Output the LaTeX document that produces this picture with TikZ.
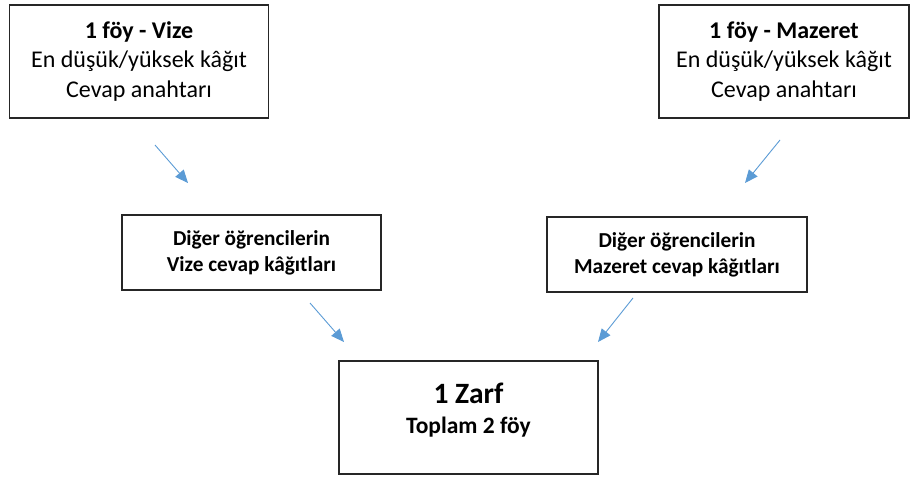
\documentclass[tikz,border=0pt]{standalone}
\usepackage{fontspec}
\setmainfont{Carlito}
\usetikzlibrary{arrows.meta}
\definecolor{arrowblue}{RGB}{91,155,213}
\tikzset{
  topbox/.style={draw=black!85, line width=1.2pt, minimum width=259pt, minimum height=113pt, align=center, font=\fontsize{24}{29.2}\selectfont, inner sep=0pt},
  midbox/.style={draw=black!85, line width=1.2pt, minimum width=259pt, minimum height=75pt, align=center, font=\bfseries\fontsize{21.3}{26}\selectfont, inner sep=0pt},
  flowarrow/.style={draw=arrowblue, line width=0.9pt, -{Triangle[length=13pt,width=11pt]}}
}
\begin{document}
\begin{tikzpicture}[x=1pt, y=-1pt]
		\useasboundingbox (0,0) rectangle (910,477);
		% Boxes
		\node[topbox] (vizefoy) at (139,61.5) {\textbf{1 föy - Vize}\\En düşük/yüksek kâğıt\\Cevap anahtarı};
		\node[topbox, minimum width=250pt] (mazeretfoy) at (784,61.5) {\textbf{1 föy - Mazeret}\\En düşük/yüksek kâğıt\\Cevap anahtarı};
		\node[midbox] (vizekagit) at (251.5,252.5) {Diğer öğrencilerin\\Vize cevap kâğıtları};
		\node[midbox, minimum width=260pt] (mazeretkagit) at (677,254.5) {Diğer öğrencilerin\\Mazeret cevap kâğıtları};
		\node[topbox] (zarf) at (468.5,417.5) {};
		\node[align=center, font=\bfseries] (zarftext) at (468.5,410) {\fontsize{29.5}{34}\selectfont 1 Zarf\\[12pt]\fontsize{23.5}{27}\selectfont Toplam 2 föy};

		% Arrow ends
		\coordinate (a1) at (155,145);
		\coordinate (b1) at (188,183);
		\coordinate (a2) at (780,140);
		\coordinate (b2) at (745,183);
		\coordinate (a3) at (310,303);
		\coordinate (b3) at (344,342);
		\coordinate (a4) at (633,298);
		\coordinate (b4) at (598,342);

		% Arrows
		\draw[flowarrow] (a1) -- (b1);
		\draw[flowarrow] (a2) -- (b2);
		\draw[flowarrow] (a3) -- (b3);
		\draw[flowarrow] (a4) -- (b4);
	\end{tikzpicture}
\end{document}
